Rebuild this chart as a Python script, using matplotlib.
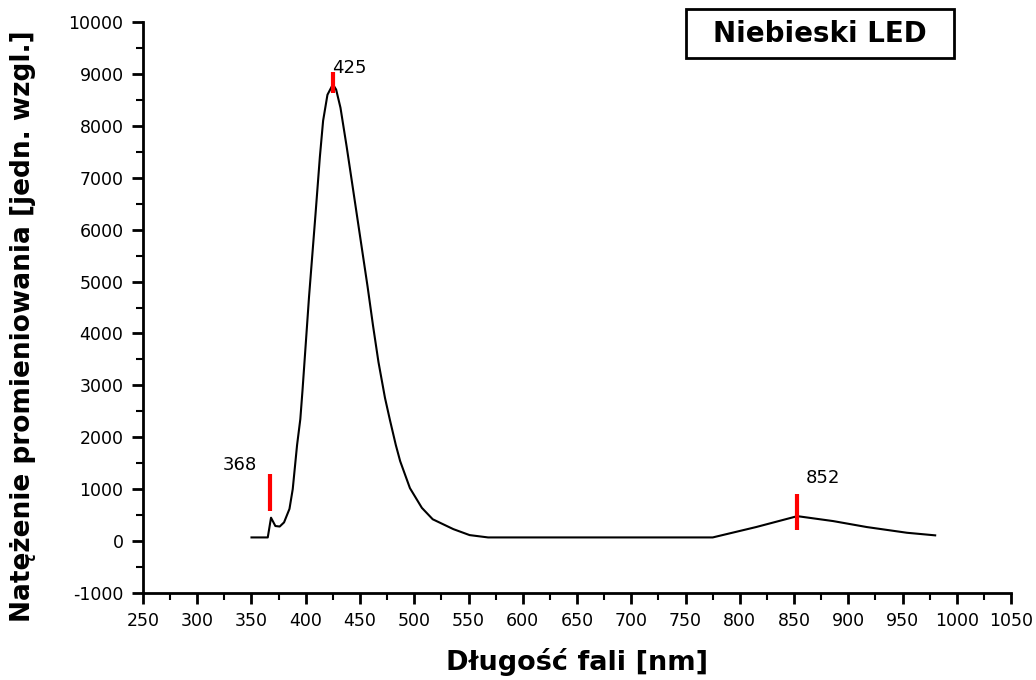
import matplotlib
matplotlib.use('Agg')
from matplotlib import pyplot as plt
from matplotlib.ticker import MultipleLocator
from matplotlib.patches import Rectangle

plt.rcParams['axes.unicode_minus'] = False

# spectrum
wavelength = [350, 365, 368, 372, 376, 380, 385, 388, 392, 395, 397, 400, 403,
              406, 409, 413, 416, 420, 425, 428, 432, 437.7, 442, 447, 452, 457,
              462, 467, 473, 477.6, 483, 487, 496, 507, 517, 536, 551, 568, 775,
              815, 853, 886, 917, 954, 980]
intensity = [70, 70, 450, 290, 280, 360, 620, 1000, 1850, 2350, 2900, 3800, 4700,
             5500, 6300, 7400, 8100, 8600, 8800, 8700, 8350, 7600, 7000, 6300, 5600,
             4900, 4150, 3450, 2760, 2330, 1850, 1540, 1020, 640, 420, 230, 115, 70,
             70, 270, 480, 385, 270, 160, 110]

# peak markers: (position, bottom, top), label and label position
peak_x = [367, 425, 853]
peak_lo = [580, 8640, 210]
peak_hi = [1290, 9040, 905]
peak_labels = ['368', '425', '852']
label_x = [339, 424, 877]
label_y = [1300, 8950, 1050]
label_ha = ['center', 'left', 'center']

fig = plt.figure(figsize=(10.36, 6.8), dpi=100)
ax = fig.add_axes([0.138, 0.128, 0.838, 0.8395])

ax.plot(wavelength, intensity, color='black', lw=1.5)
for px, lo, hi in zip(peak_x, peak_lo, peak_hi):
	ax.plot([px, px], [lo, hi], color='red', lw=3, solid_capstyle='butt')
for lx, ly, txt, ha in zip(label_x, label_y, peak_labels, label_ha):
	ax.text(lx, ly, txt, fontsize=13, ha=ha, va='bottom')

ax.set_xlim(250, 1050)
ax.set_ylim(-1000, 10000)
ax.xaxis.set_major_locator(MultipleLocator(50))
ax.xaxis.set_minor_locator(MultipleLocator(25))
ax.yaxis.set_major_locator(MultipleLocator(1000))
ax.yaxis.set_minor_locator(MultipleLocator(500))
ax.tick_params(which='major', direction='out', length=8, width=2, labelsize=12.5, pad=6)
ax.tick_params(which='minor', direction='out', length=5, width=1.5)

for s in ['top', 'right']:
	ax.spines[s].set_visible(False)
for s in ['left', 'bottom']:
	ax.spines[s].set_linewidth(2)

ax.set_xlabel('Długość fali [nm]', fontsize=19.5, fontweight='bold', labelpad=13)
ax.set_ylabel('Natężenie promieniowania [jedn. wzgl.]', fontsize=19, fontweight='bold')
ax.yaxis.set_label_coords(-0.1233, 0.4667)

# title box
fig.add_artist(Rectangle((686 / 1036, 1 - 58 / 680), 268 / 1036, 49 / 680,
	transform=fig.transFigure, fc='white', ec='black', lw=2))
fig.text(820 / 1036, 1 - 34 / 680, 'Niebieski LED', fontsize=20,
	fontweight='bold', ha='center', va='center')

fig.savefig('out.png', dpi=100)
